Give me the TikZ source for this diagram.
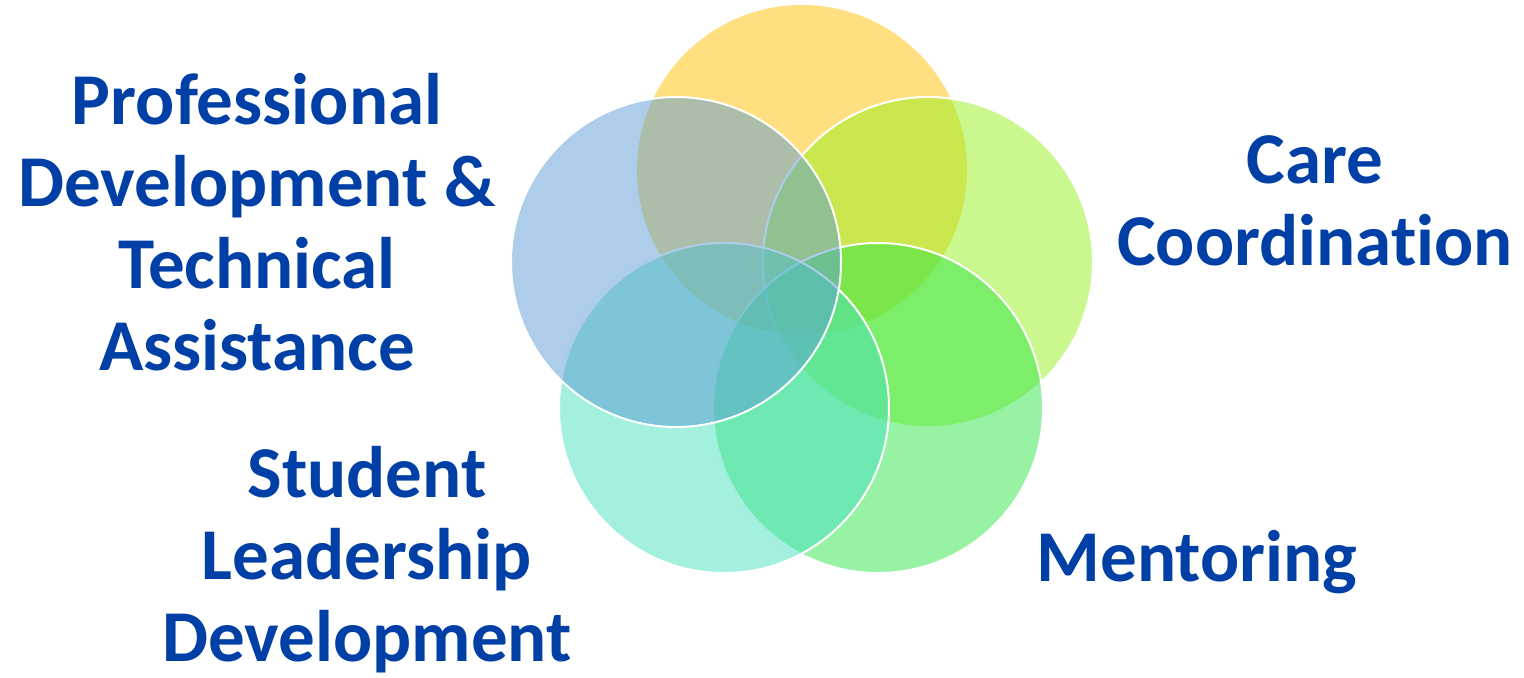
\documentclass[tikz,border=0pt]{standalone}
\usepackage{fontspec}
\setmainfont{Carlito}[Ligatures={NoCommon}]
\usetikzlibrary{positioning}

\definecolor{goldring}{RGB}{255,192,0}
\definecolor{limering}{RGB}{149,241,29}
\definecolor{greenring}{RGB}{47,229,71}
\definecolor{tealring}{RGB}{71,225,191}
\definecolor{bluering}{RGB}{91,155,213}
\definecolor{labelblue}{RGB}{0,64,166}

\begin{document}
\begin{tikzpicture}[x=0.5pt, y=-0.5pt, ring node/.style={circle, minimum size=165pt, inner sep=0pt, fill opacity=.5, draw opacity=1},
    label node/.style={align=center, text=labelblue, font=\bfseries\fontsize{36.5}{41}\selectfont, inner sep=0pt}]
\useasboundingbox (0,0) rectangle (1524,677);
% rings, bottom one first
\node[ring node, fill=goldring] (care) at (802,170) {};
\node[ring node, fill=limering, draw=white, line width=1pt] (coord) at (928,262) {};
\node[ring node, fill=greenring, draw=white, line width=1pt] (mentor) at (878,408) {};
\node[ring node, fill=tealring, draw=white, line width=1pt] (student) at (724,408) {};
\node[ring node, fill=bluering, draw=white, line width=1pt] (prof) at (676,262) {};
% labels
\node[label node] (proftext) at (257,222) {Professional\\Development \&\\Technical\\Assistance};
\node[label node] (coordtext) at (1315,201) {Care\\Coordination};
\node[label node] (mentortext) at (1197,562) {Mentoring};
\node[label node] (studenttext) at (367,560) {Student\\Leadership\\Development};
\end{tikzpicture}
\end{document}
